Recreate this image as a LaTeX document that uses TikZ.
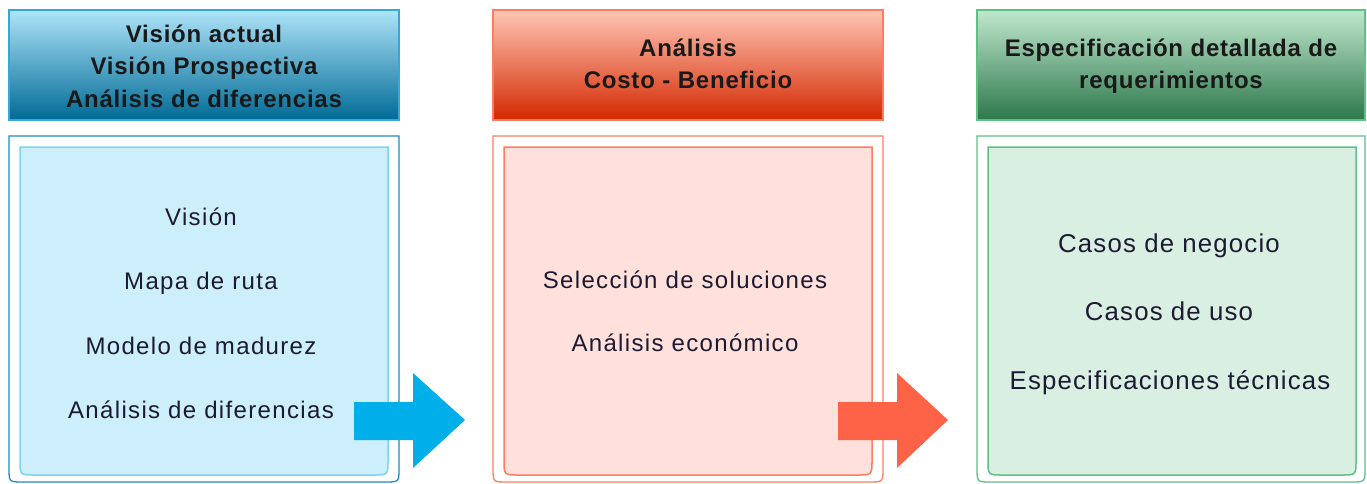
\documentclass[tikz,border=0pt]{standalone}
\usepackage{fontspec}
\setmainfont{Liberation Sans}
\newfontfamily\hdrfont[LetterSpace=3.3]{Liberation Sans}
\newfontfamily\bodyfont[LetterSpace=5.6]{Liberation Sans}
\newfontfamily\bodyfontb[LetterSpace=4.5]{Liberation Sans}
\begin{document}
\begin{tikzpicture}[x=1pt,y=-1pt,
  hdr/.style={font=\hdrfont\bfseries\fontsize{24}{32}\selectfont, text=black!90, anchor=base, inner sep=0pt},
  body/.style={font=\bodyfont\fontsize{24}{28}\selectfont, text=bodytext, anchor=base, inner sep=0pt},
  bodyb/.style={font=\bodyfontb\fontsize{25.8}{30}\selectfont, text=bodytext, anchor=base, inner sep=0pt},
  hbox/.style={line width=1.2pt},
  ]
\definecolor{bodytext}{HTML}{1C1A33}
\definecolor{bluetop}{HTML}{AEE4F8}
\definecolor{bluemid}{HTML}{1EB2E8}
\definecolor{bluebot}{HTML}{006A96}
\definecolor{blueedge}{HTML}{3AA6D6}
\definecolor{blueouter}{HTML}{1C8CC4}
\definecolor{blueinner}{HTML}{7DD3F2}
\definecolor{bluefill}{HTML}{CDEEFB}
\definecolor{bluearrow}{HTML}{00AEEA}
\definecolor{redtop}{HTML}{FFC6B6}
\definecolor{redmid}{HTML}{F06848}
\definecolor{redbot}{HTML}{D42800}
\definecolor{rededge}{HTML}{FF7C60}
\definecolor{redfill}{HTML}{FFE0DA}
\definecolor{redarrow}{HTML}{FF6347}
\definecolor{greentop}{HTML}{C0E7CE}
\definecolor{greenmid}{HTML}{5AAE78}
\definecolor{greenbot}{HTML}{2D784B}
\definecolor{greenedge}{HTML}{5DC183}
\definecolor{greenfill}{HTML}{D9EFE2}
\useasboundingbox[fill=white] (0,0) rectangle (1367,483);

% ---------- column 1 ----------
\shade[top color=bluetop, middle color=bluemid, bottom color=bluebot, draw=blueedge, hbox] (9,10) rectangle (399,120);
\draw[blueouter, line width=1.3pt] (9,136) -- (9,468) .. controls (9,482) .. (23,482) -- (385,482) .. controls (399,482) .. (399,468) -- (399,136) -- cycle;
\draw[blueinner, fill=bluefill, line width=1.5pt] (20,147) -- (20,460) .. controls (20,475) .. (35,475) -- (373,475) .. controls (388,475) .. (388,460) -- (388,147) -- cycle;
\node[hdr] (h1a) at (204,42) {Visión actual};
\node[hdr] (h1b) at (204,74) {Visión Prospectiva};
\node[hdr] (h1c) at (204,107) {Análisis de diferencias};
\node[body] (b1a) at (201,225) {Visión};
\node[body] (b1b) at (201,289) {Mapa de ruta};
\node[body] (b1c) at (201,354) {Modelo de madurez};
\node[body] (b1d) at (201,418) {Análisis de diferencias};

% ---------- column 2 ----------
\shade[top color=redtop, middle color=redmid, bottom color=redbot, draw=rededge, hbox] (493,10) rectangle (883,120);
\draw[rededge, line width=1.3pt] (493,136) -- (493,468) .. controls (493,482) .. (507,482) -- (869,482) .. controls (883,482) .. (883,468) -- (883,136) -- cycle;
\draw[rededge, fill=redfill, line width=1.5pt] (504,147) -- (504,460) .. controls (504,475) .. (519,475) -- (857,475) .. controls (872,475) .. (872,460) -- (872,147) -- cycle;
\node[hdr] (h2a) at (688,56) {Análisis};
\node[hdr] (h2b) at (688,88) {Costo - Beneficio};
\node[body] (b2a) at (685,288) {Selección de soluciones};
\node[body] (b2b) at (685,351) {Análisis económico};

% ---------- column 3 ----------
\shade[top color=greentop, middle color=greenmid, bottom color=greenbot, draw=greenedge, hbox] (977,10) rectangle (1365,120);
\draw[greenedge, line width=1.3pt] (977,136) -- (977,468) .. controls (977,482) .. (991,482) -- (1351,482) .. controls (1365,482) .. (1365,468) -- (1365,136) -- cycle;
\draw[greenedge, fill=greenfill, line width=1.5pt] (988,147) -- (988,460) .. controls (988,475) .. (1003,475) -- (1341,475) .. controls (1356,475) .. (1356,460) -- (1356,147) -- cycle;
\node[hdr] (h3a) at (1171,56) {Especificación detallada de};
\node[hdr] (h3b) at (1171,88) {requerimientos};
\node[bodyb] (b3a) at (1169,252) {Casos de negocio};
\node[bodyb] (b3b) at (1169,320) {Casos de uso};
\node[bodyb] (b3c) at (1170,389) {Especificaciones técnicas};

% ---------- arrows ----------
\fill[bluearrow] (354,402) -- (413,402) -- (413,373) -- (465,420) -- (413,468) -- (413,440) -- (354,440) -- cycle;
\fill[redarrow] (838,402) -- (897,402) -- (897,373) -- (948,420) -- (897,468) -- (897,440) -- (838,440) -- cycle;
\end{tikzpicture}
\end{document}
